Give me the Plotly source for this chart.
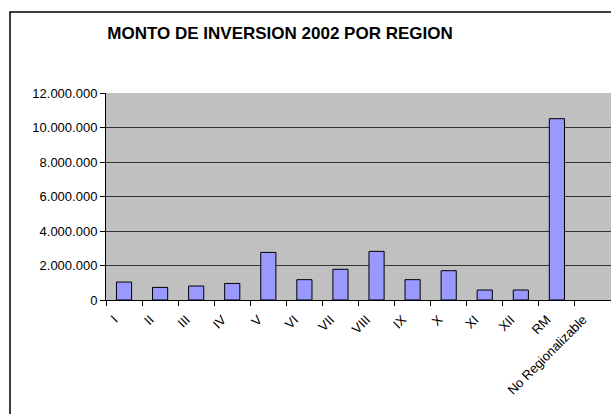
import plotly.graph_objects as go

regions = ["I", "II", "III", "IV", "V", "VI", "VII", "VIII", "IX", "X", "XI", "XII", "RM", "No Regionalizable"]
montos = [1040000, 730000, 810000, 960000, 2760000, 1180000, 1780000, 2820000, 1180000, 1700000, 580000, 580000, 10510000, None]
y_ticks = [0, 2000000, 4000000, 6000000, 8000000, 10000000, 12000000]

W, H = 611, 414
ML, MR, MT, MB = 106, 0, 93, 114
pw = W - ML - MR
ph = H - MT - MB

fig = go.Figure(go.Bar(
    x=regions, y=montos,
    marker=dict(color="#9999FF", line=dict(color="black", width=1)),
    width=0.42,
))

def px_x(px):
    return (px - ML) / pw

def px_y(py):
    return (H - MB - py) / ph

fig.update_layout(
    width=W, height=H,
    margin=dict(l=ML, r=MR, t=MT, b=MB, pad=0),
    paper_bgcolor="white",
    plot_bgcolor="#C0C0C0",
    separators=",.",
    font=dict(family="Liberation Sans, Arial, sans-serif", color="black", size=12),
    showlegend=False,
    title=dict(text="<b>MONTO DE INVERSION 2002 POR REGION</b>",
               x=280 / W, xref="container", xanchor="center",
               y=1 - 33 / H, yref="container", yanchor="middle",
               font=dict(size=17, color="black")),
    xaxis=dict(
        type="category", range=[-0.5, 13.5],
        showline=True, linecolor="black", linewidth=1,
        ticks="outside", tickson="boundaries", ticklen=5, tickcolor="black",
        tickangle=-45, tickfont=dict(size=13),
        ticklabelshift=-10, ticklabelstandoff=6,
        showgrid=False,
    ),
    yaxis=dict(
        range=[0, 12000000], tickvals=y_ticks, tickformat=",d",
        showline=True, linecolor="black", linewidth=1,
        ticks="outside", ticklen=5, tickcolor="black",
        gridcolor="#333333", gridwidth=1.2,
        zeroline=False, tickfont=dict(size=13),
    ),
    shapes=[dict(type="rect", xref="paper", yref="paper",
                 x0=px_x(10), x1=px_x(W + 3), y0=px_y(H + 3), y1=px_y(12),
                 line=dict(color="black", width=1.5), fillcolor="rgba(0,0,0,0)",
                 layer="below")],
)

fig.write_html("out.html", config={"displayModeBar": False},
               post_script="document.body.style.margin='0';document.body.style.overflow='hidden';")
